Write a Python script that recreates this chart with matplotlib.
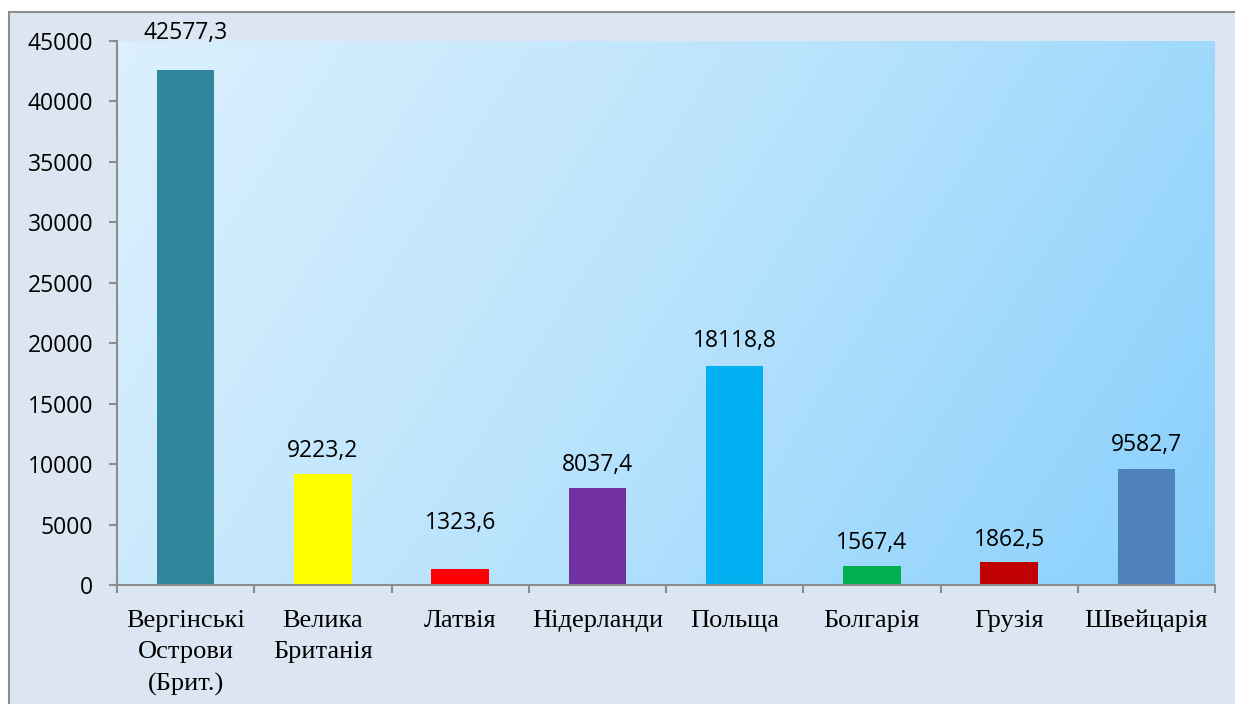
import matplotlib
matplotlib.use("Agg")
import matplotlib.pyplot as plt
import numpy as np
from matplotlib.patches import Rectangle
from matplotlib.colors import LinearSegmentedColormap

# data
countries = ["Вергінські\nОстрови\n(Брит.)", "Велика\nБританія", "Латвія", "Нідерланди",
             "Польща", "Болгарія", "Грузія", "Швейцарія"]
values = [42577.3, 9223.2, 1323.6, 8037.4, 18118.8, 1567.4, 1862.5, 9582.7]
bar_colors = ["#31859c", "#ffff00", "#ff0000", "#7030a0",
              "#00b0f0", "#00b050", "#c00000", "#4f81bd"]
label_offsets = [37, 23, 46, 23, 25, 23, 22, 24]  # px above bar top (label centre)

fig = plt.figure(figsize=(12.35, 7.04), dpi=100)
fig.patch.set_facecolor("white")

# chart area panel with grey outline (right/bottom edges run off the image)
fig.patches.append(Rectangle((9 / 1235, -0.1), 1.2, 1.1 - 12 / 704, transform=fig.transFigure,
                             facecolor="#dce6f2", edgecolor="#8c8c8c", linewidth=1.5,
                             zorder=-5))

ax = fig.add_axes([117 / 1235, 1 - 585 / 704, (1215 - 117) / 1235, (585 - 41) / 704])
ax.set_facecolor("none")

# gradient background of the plot area
gx, gy = np.meshgrid(np.linspace(0, 1, 300), np.linspace(0, 1, 200))
grad = 0.8 * gx + 0.25 * (1 - gy)
cmap = LinearSegmentedColormap.from_list("bg", ["#dcf0fd", "#b9e3fc", "#88d0fc"])
ax.imshow(grad, extent=[-0.5, len(values) - 0.5, 0, 45000], aspect="auto",
          cmap=cmap, origin="lower", zorder=0, vmin=0, vmax=1.05)

x = np.arange(len(values))
ax.bar(x, values, width=0.42, color=bar_colors, zorder=2)

for xi, v, off in zip(x, values, label_offsets):
    ax.annotate(f"{v:.1f}".replace(".", ","), (xi, v), xytext=(0, off * 0.72),
                textcoords="offset points", ha="center", va="center",
                fontsize=16.5, family="Open Sans", color="black", zorder=3,
                annotation_clip=False)

ax.set_xlim(-0.5, len(values) - 0.5)
ax.set_ylim(0, 45000)
ax.set_yticks(np.arange(0, 45001, 5000))
ax.set_yticklabels([str(t) for t in range(0, 45001, 5000)], family="Open Sans", fontsize=16.5)

ax.set_xticks(x)
ax.set_xticklabels(countries, family="Liberation Serif", fontsize=19, va="top",
                   linespacing=1.55)
ax.tick_params(axis="x", length=0, pad=18)
ax.set_xticks(np.arange(-0.5, len(values)), minor=True)
ax.tick_params(axis="x", which="minor", length=6, width=1.5, color="#8c8c8c")
ax.tick_params(axis="y", length=6, width=1.5, color="#8c8c8c", pad=11)

for side in ["top", "right"]:
    ax.spines[side].set_visible(False)
for side in ["left", "bottom"]:
    ax.spines[side].set_color("#8c8c8c")
    ax.spines[side].set_linewidth(1.5)
    ax.spines[side].set_zorder(4)

fig.savefig("out.png", dpi=100)
